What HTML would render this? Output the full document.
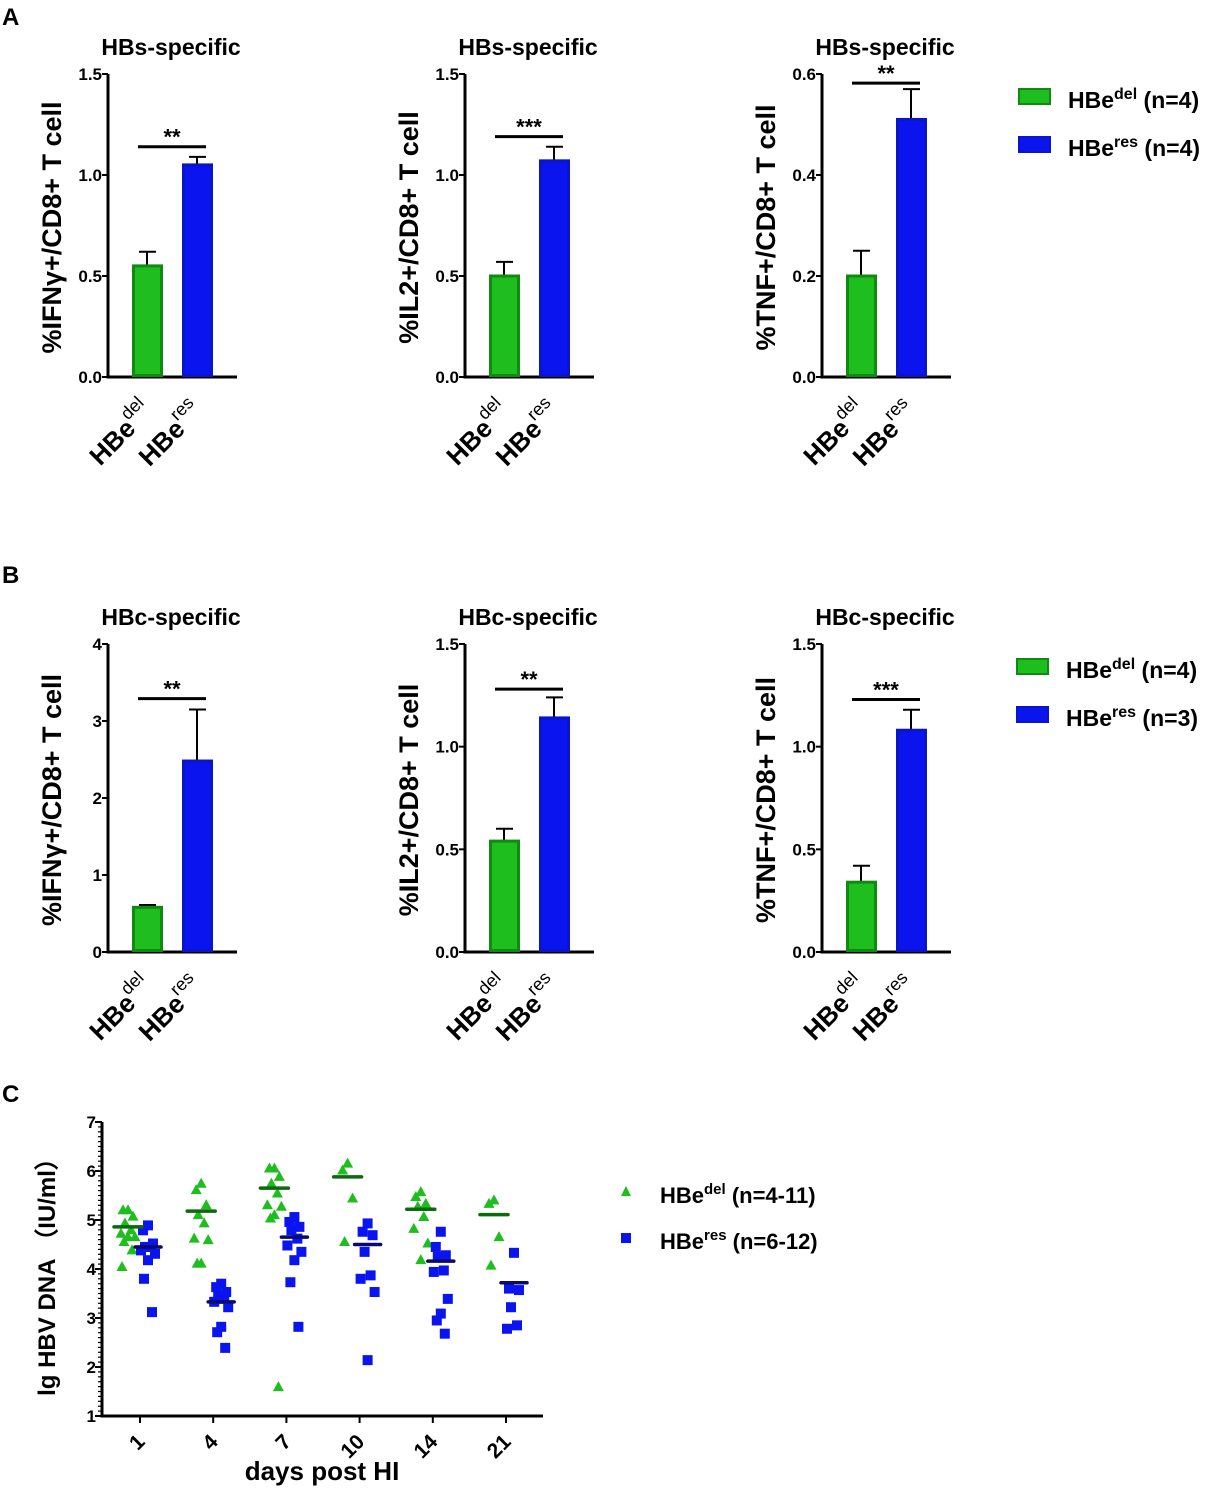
<!DOCTYPE html>
<html><head><meta charset="utf-8"><style>
body{margin:0;background:#fff}
svg{display:block;font-family:"Liberation Sans",Arial,sans-serif;font-weight:bold}
</style></head><body>
<svg id="s" width="1215" height="1489" viewBox="0 0 1215 1489" xmlns="http://www.w3.org/2000/svg">
<text x="2" y="25" font-size="24">A</text>
<text x="2" y="583" font-size="24">B</text>
<text x="2" y="1102" font-size="24">C</text>
<g id="legA">
<rect x="1019" y="89" width="31" height="15" fill="#1fbe1f" stroke="#118a11" stroke-width="2"/>
<text x="1068" y="108" font-size="23">HBe<tspan dy="-9" font-size="16">del</tspan><tspan dy="9"> (n=4)</tspan></text>
<rect x="1019" y="137" width="31" height="15" fill="#0a14ee" stroke="#0a14c8" stroke-width="2"/>
<text x="1068" y="156" font-size="23">HBe<tspan dy="-9" font-size="16">res</tspan><tspan dy="9"> (n=4)</tspan></text>
</g>
<g id="legB">
<rect x="1017" y="659" width="31" height="15" fill="#1fbe1f" stroke="#118a11" stroke-width="2"/>
<text x="1066" y="678" font-size="23">HBe<tspan dy="-9" font-size="16">del</tspan><tspan dy="9"> (n=4)</tspan></text>
<rect x="1017" y="707" width="31" height="15" fill="#0a14ee" stroke="#0a14c8" stroke-width="2"/>
<text x="1066" y="726" font-size="23">HBe<tspan dy="-9" font-size="16">res</tspan><tspan dy="9"> (n=3)</tspan></text>
</g>
<g>
<polygon points="626,1186 621,1196 631,1196" fill="#1fbe1f"/>
<text x="660" y="1203" font-size="22">HBe<tspan dy="-9" font-size="15">del</tspan><tspan dy="9"> (n=4-11)</tspan></text>
<rect x="621" y="1233" width="10" height="10" fill="#0a14ee"/>
<text x="660" y="1249" font-size="22">HBe<tspan dy="-9" font-size="15">res</tspan><tspan dy="9"> (n=6-12)</tspan></text>
</g>
</svg>
<script>
// Bar chart data
const barTitles = ["HBs-specific","HBs-specific","HBs-specific","HBc-specific","HBc-specific","HBc-specific"];
const barYLabels = ["%IFNγ+/CD8+ T cell","%IL2+/CD8+ T cell","%TNF+/CD8+ T cell","%IFNγ+/CD8+ T cell","%IL2+/CD8+ T cell","%TNF+/CD8+ T cell"];
const barMax = [1.5,1.5,0.6,4,1.5,1.5];
const barTicks = [["0.0","0.5","1.0","1.5"],["0.0","0.5","1.0","1.5"],["0.0","0.2","0.4","0.6"],["0","1","2","3","4"],["0.0","0.5","1.0","1.5"],["0.0","0.5","1.0","1.5"]];
const delMeans = [0.55,0.50,0.20,0.58,0.54,0.34];
const delErrs = [0.07,0.07,0.05,0.03,0.06,0.08];
const resMeans = [1.05,1.07,0.51,2.48,1.14,1.08];
const resErrs = [0.04,0.07,0.06,0.67,0.10,0.10];
const sigLevels = [1.14,1.19,0.582,3.29,1.28,1.23];
const sigStars = ["**","***","**","**","**","***"];

// Scatter data (panel C)
const days = ["1","4","7","10","14","21"];
const delPoints = [
 [5.2,5.2,5.07,4.93,4.79,4.72,4.65,4.65,4.55,4.38,4.04],
 [5.74,5.61,5.3,5.1,4.93,4.62,4.59,4.11,4.11],
 [6.05,6.05,5.88,5.74,5.54,5.3,5.27,5.1,5.03,1.59],
 [6.15,6.01,5.44,4.55],
 [5.57,5.47,5.33,5.27,5.06,4.82,4.52,4.18],
 [5.4,5.33,4.65,4.07]];
const resPoints = [
 [4.89,4.79,4.52,4.45,4.45,4.38,4.31,4.18,3.8,3.12],
 [3.7,3.63,3.53,3.46,3.39,3.33,3.22,2.82,2.71,2.39],
 [5.06,4.96,4.86,4.79,4.62,4.48,4.35,4.18,3.73,2.82],
 [4.93,4.76,4.69,4.35,3.87,3.8,3.53,2.14],
 [4.76,4.45,4.28,4.25,3.97,3.94,3.39,3.09,2.95,2.68],
 [4.33,3.6,3.57,3.22,2.85,2.78]];
const delMedians = [4.86,5.18,5.65,5.88,5.22,5.11];
const resMedians = [4.45,3.33,4.65,4.5,4.16,3.72];
const cTicks = ["1","2","3","4","5","6","7"];

const NS="http://www.w3.org/2000/svg", svg=document.getElementById('s');
function mk(tag,attrs,parent,txt){const e=document.createElementNS(NS,tag);for(const k in attrs)e.setAttribute(k,attrs[k]);if(txt!==undefined)e.textContent=txt;(parent||svg).appendChild(e);return e;}

const axX=[108,465,822,108,465,822], tops=[74,74,74,644,644,644], bots=[377,377,377,952,952,952];
for(let i=0;i<6;i++){
 const x0=axX[i],top=tops[i],bot=bots[i],mx=barMax[i];
 const y=v=>bot-(v/mx)*(bot-top);
 const g=mk('g',{});
 
 
 const t=mk('text',{x:x0+63,y:top-19,'font-size':23,'text-anchor':'middle'},g,barTitles[i]);
 
 
 const yl=mk('text',{x:0,y:0,'font-size':27,'text-anchor':'middle',transform:`translate(${x0-47},${(top+bot)/2+2}) rotate(-90)`},g,barYLabels[i]);
 
 
 const ax=mk('path',{d:`M${x0},${top} V${bot} H${x0+129}`,stroke:'#000','stroke-width':3,fill:'none'},g);
 
 
 const nt=barTicks[i].length;
 barTicks[i].forEach((lab,j)=>{const v=mx*j/(nt-1);const yy=y(v);
  const tk=mk('line',{x1:x0-6,x2:x0,y1:yy,y2:yy,stroke:'#000','stroke-width':2},g);
  
  
  const tl=mk('text',{x:x0-6,y:yy+6,'font-size':17,'text-anchor':'end'},g,lab);
  
  
 });
 const groups=[[delMeans[i],delErrs[i],x0+24,'#1fbe1f','#118a11','del'],[resMeans[i],resErrs[i],x0+74,'#0a14ee','#0a14c8','res']];
 groups.forEach(([m,e,bx,f,s,n])=>{
  const el=mk('path',{d:`M${bx+15},${y(m)} V${y(m+e)} M${bx+7},${y(m+e)} H${bx+24}`,stroke:'#000','stroke-width':2,fill:'none'},g);
  
  
  const r=mk('rect',{x:bx+1.5,y:y(m),width:28,height:bot-y(m)-1.5,fill:f,stroke:s,'stroke-width':3},g);
  
  
  const xl=mk('text',{x:0,y:0,'font-size':26,'text-anchor':'end',transform:`translate(${bx+22},${bot+36}) rotate(-45)`},g);
  
  
  mk('tspan',{},xl,'HBe');mk('tspan',{dy:-13,'font-size':18,'font-weight':'normal'},xl,n);
 });
 const sy=y(sigLevels[i]);
 const sl=mk('line',{x1:x0+30,x2:x0+98,y1:sy,y2:sy,stroke:'#000','stroke-width':3},g);
 
 
 const st=mk('text',{x:x0+64,y:sy-2,'font-size':22,'text-anchor':'middle'},g,sigStars[i]);
 
 
}

// Panel C
const cx0=102, ctop=1122, cbot=1416;
const cy=v=>cbot-(v-1)*(cbot-ctop)/6;
const cxs=i=>140+i*73.2;
const gc=mk('g',{});


const cax=mk('path',{d:`M${cx0},${ctop} V${cbot} H${543}`,stroke:'#000','stroke-width':3,fill:'none'},gc);


for(let k=0;k<=60;k++){const v=1+k/10,yy=cy(v);
 const mj=k%10===0;
 const tk=mk('line',{x1:cx0-(mj?7:4),x2:cx0,y1:yy,y2:yy,stroke:'#000','stroke-width':mj?2:1.2},gc);
 
 
}
cTicks.forEach((lab,j)=>{const yy=cy(+lab);
 const tl=mk('text',{x:cx0-6,y:yy+6,'font-size':17,'text-anchor':'end'},gc,lab);
 
 
});
const cyl=mk('text',{x:0,y:0,'font-size':24,'text-anchor':'middle',transform:`translate(55,1271) rotate(-90)`},gc,'lg HBV DNA （IU/ml）');


const cxl=mk('text',{x:322,y:1480,'font-size':26,'text-anchor':'middle'},gc,'days post HI');


days.forEach((d,i)=>{const x=cxs(i);
 const tk=mk('line',{x1:x,x2:x,y1:cbot,y2:cbot+7,stroke:'#000','stroke-width':2},gc);
 
 
 const tl=mk('text',{x:0,y:0,'font-size':21,'text-anchor':'end',transform:`translate(${x+6},${cbot+27}) rotate(-45)`},gc,d);
 
 
 const gx=x-12,bx=x+8;
 const offs=[0,-5,5,-3,3,-7,7,0,-4,4,-6,6];
 delPoints[i].forEach((v,k)=>{const px=gx+offs[k%offs.length],py=cy(v);
  const p=mk('polygon',{points:`${px},${py-6} ${px-5.5},${py+4} ${px+5.5},${py+4}`,fill:'#1fbe1f'},gc);
  
  
 });
 resPoints[i].forEach((v,k)=>{const px=bx+offs[k%offs.length],py=cy(v);
  const p=mk('rect',{x:px-5,y:py-5,width:10,height:10,fill:'#0a14ee'},gc);
  
  
 });
 const m1=mk('line',{x1:gx-14,x2:gx+14,y1:cy(delMedians[i]),y2:cy(delMedians[i]),stroke:'#0c6a0c','stroke-width':3.5,'stroke-linecap':'round'},gc);
 
 
 const m2=mk('line',{x1:bx-13,x2:bx+13,y1:cy(resMedians[i]),y2:cy(resMedians[i]),stroke:'#0a0a6a','stroke-width':3.5,'stroke-linecap':'round'},gc);
 
 
});
</script>
</body></html>
